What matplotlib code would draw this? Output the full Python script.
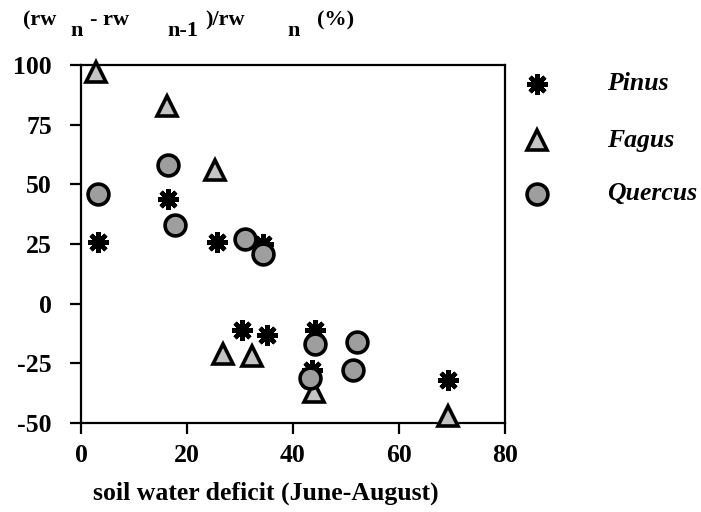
import numpy as np
import matplotlib.pyplot as plt

# values (soil water deficit, ring-width change %)
pinus_x = [3.2, 16.4, 25.7, 34.3, 30.4, 35.1, 44.2, 43.5, 43.3, 69.3]
pinus_y = [26, 44, 26, 25, -11, -13, -11, -28, -32, -32]
fagus_x = [2.8, 16.3, 25.3, 26.8, 32.3, 44.0, 69.3]
fagus_y = [97, 83, 56, -21, -22, -37, -47]
quercus_x = [3.2, 16.5, 17.7, 31.0, 34.3, 44.2, 52.1, 51.3, 43.3]
quercus_y = [46, 58, 33, 27, 21, -17, -16, -28, -31]

x_ticks = [0, 20, 40, 60, 80]
y_ticks = [-50, -25, 0, 25, 50, 75, 100]

W, H = 701, 512
plt.rcParams['font.family'] = 'Liberation Serif'
plt.rcParams['font.weight'] = 'bold'
plt.rcParams['axes.unicode_minus'] = False

fig = plt.figure(figsize=(W / 100, H / 100), dpi=100)
ax = fig.add_axes([81 / W, 1 - 423 / H, (505 - 81) / W, (423 - 65) / H])

# styles
pin_style = dict(marker=(8, 2, 0), color='black', markersize=15, markeredgewidth=3.2, linestyle='none')
fag_style = dict(marker='^', markerfacecolor='#c4c4c4', markeredgecolor='black',
                 markersize=14, markeredgewidth=2.6, linestyle='none')
que_style = dict(marker='o', markerfacecolor='#9e9e9e', markeredgecolor='black',
                 markersize=15, markeredgewidth=2.6, linestyle='none')

ax.plot(pinus_x, pinus_y, clip_on=False, zorder=3, **pin_style)
ax.plot(fagus_x, fagus_y, clip_on=False, zorder=3, **fag_style)
ax.plot(quercus_x, quercus_y, clip_on=False, zorder=4, **que_style)

ax.set_xlim(0, 80)
ax.set_ylim(-50, 100)
ax.set_xticks(x_ticks)
ax.set_yticks(y_ticks)
ax.tick_params(direction='out', length=8, width=1.6, labelsize=18.5)
ax.tick_params(axis='y', pad=13)
ax.tick_params(axis='x', pad=7)
for s in ax.spines.values():
    s.set_linewidth(1.6)


def px(x, y):
    return x / W, 1 - y / H


fig.text(*px(266, 493), 'soil water deficit (June-August)', fontsize=18.5, ha='center', va='center')

# y-axis label as a header with subscripts
parts = [("(rw", 23, 20), ("n", 70, 31), ("- rw", 90, 20), ("n-1", 167, 31),
         (")/rw", 205, 20), ("n", 287, 31), ("(%)", 317, 20)]
for txt, x, y in parts:
    fig.text(*px(x, y), txt, fontsize=16, ha='left', va='center')

# legend drawn beside the axes
legend_rows = [("Pinus", pin_style, 84), ("Fagus", fag_style, 140), ("Quercus", que_style, 194)]
for name, st, y in legend_rows:
    fig.lines.append(plt.Line2D([537 / W], [1 - y / H], transform=fig.transFigure, **st))
    fig.text(*px(607, y), name, fontsize=18.5, style='italic', ha='left', va='center')

fig.savefig('out.png', dpi=100)
